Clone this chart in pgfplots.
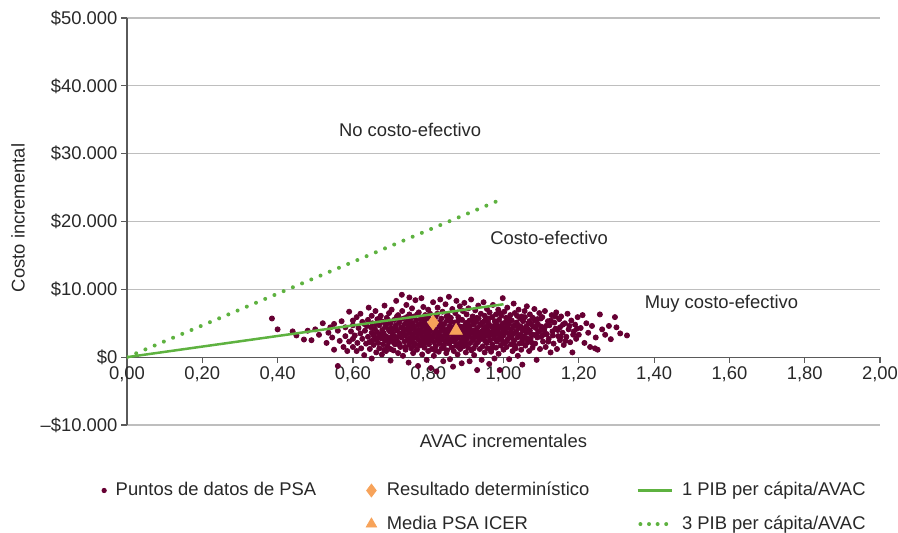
\documentclass[border=0pt]{standalone}
\usepackage{fontspec}
\setmainfont{Liberation Sans}
\usepackage{pgfplots}
\pgfplotsset{compat=1.18}

\definecolor{psa}{RGB}{102,0,51}
\definecolor{pibgreen}{RGB}{94,178,64}
\definecolor{orng}{RGB}{247,163,90}
\definecolor{gridgray}{RGB}{190,190,190}
\definecolor{axisgray}{RGB}{90,90,90}
\definecolor{txt}{RGB}{40,40,40}
\newcommand\chartfont{\fontsize{9.2}{11}\selectfont}

\begin{document}
\begin{tikzpicture}
\path[use as bounding box] (-63.5pt,-54pt) rectangle (385.5pt,212.5pt);
\begin{axis}[
    at={(0,0)}, anchor=south west,
    scale only axis,
    width=376.5pt, height=203.5pt,
    xmin=0, xmax=2, ymin=-10000, ymax=50000,
    clip mode=individual,
    axis x line=middle, axis y line=left,
    axis line style={-, draw=axisgray, line width=0.65pt},
    hide obscured x ticks=false,
    scaled y ticks=false,
    xtick align=center, ytick align=outside,
    major tick length=2.8pt,
    tick style={axisgray, line width=0.6pt},
    x tick style={axisgray, line width=0.6pt, yshift=-1.4pt},
    xtick={0,0.2,...,2.0},
    xticklabels={{0,00},{0,20},{0,40},{0,60},{0,80},{1,00},{1,20},{1,40},{1,60},{1,80},{2,00}},
    ytick={-10000,0,10000,20000,30000,40000,50000},
    yticklabels={--\$10.000,\$0,\$10.000,\$20.000,\$30.000,\$40.000,\$50.000},
    tick label style={font=\chartfont, text=txt},
    yticklabel style={xshift=1.5pt},
    ymajorgrids,
    grid style={gridgray, line width=0.65pt},
    xlabel={AVAC incrementales},
    ylabel={Costo incremental},
    label style={font=\chartfont, text=txt},
    xlabel style={at={(axis description cs:0.5,0)}, anchor=north, yshift=-1pt},
    ylabel style={at={(axis description cs:-0.1448,0.5086)}, anchor=center},
    legend columns=3,
    legend cell align=left,
    legend style={draw=none, fill=none, font=\chartfont, text=txt,
        at={(axis description cs:-0.07,-0.12)}, anchor=north west,
        row sep=4.5pt,
        /tikz/column 2/.style={column sep=23pt},
        /tikz/column 4/.style={column sep=21.5pt}},
]
% PSA scatter points
\addplot[only marks, mark=*, mark size=1.28pt, color=psa, forget plot] coordinates {
(0.385,5700) (0.40,4100) (0.44,3800) (0.45,3200) (0.47,2600)
(0.48,3900) (0.49,2500) (0.50,4100) (0.51,3300) (0.52,5000) (0.53,2100) (0.535,3600) (0.54,4400) (0.545,2900) (0.55,1100) (0.55,4900)
(0.56,-1300) (0.56,3900) (0.565,2400) (0.57,5300) (0.575,1500) (0.58,4400) (0.58,3100) (0.585,900) (0.59,2300) (0.59,6700) (0.595,3800) (0.60,1500) (0.60,4700) (0.60,2700) (0.60,5400)
(0.605,3200) (0.61,900) (0.61,5900) (0.612,2100) (0.615,4300) (0.62,3500) (0.62,6400) (0.622,1300) (0.625,2700) (0.63,4900) (0.63,300) (0.632,3900) (0.635,2000) (0.64,5500) (0.64,3000) (0.642,7300) (0.645,1200) (0.648,4400) (0.65,2400) (0.65,3600) (0.65,-200) (0.65,6100)
(0.652,5000) (0.655,1800) (0.656,3100) (0.658,4200) (0.66,2600) (0.66,6800) (0.662,700) (0.664,3700) (0.665,5600) (0.667,2100) (0.67,4700) (0.67,1300) (0.672,3300) (0.674,6100) (0.675,2800) (0.677,400) (0.678,4000) (0.68,5200) (0.68,1900) (0.682,3500) (0.684,7600) (0.685,2500) (0.686,4500) (0.688,900) (0.69,3000) (0.69,5800) (0.692,1600) (0.694,4100) (0.695,2200) (0.696,6500) (0.698,3800) (0.70,-500) (0.70,2900) (0.70,5000) (0.70,1200)
(0.702,4300) (0.703,7000) (0.705,2400) (0.706,3400) (0.708,1000) (0.71,5500) (0.71,3100) (0.712,1900) (0.714,4700) (0.715,8300) (0.716,2700) (0.718,3900) (0.72,600) (0.72,6200) (0.722,2100) (0.723,5100) (0.725,3500) (0.726,1500) (0.728,4400) (0.73,9200) (0.73,2900) (0.731,6800) (0.733,200) (0.734,3700) (0.735,5700) (0.737,2300) (0.738,4900) (0.74,1100) (0.74,3200) (0.742,7700) (0.744,4100) (0.745,2600) (0.746,5300) (0.748,-800) (0.748,3600) (0.75,8800) (0.75,1800) (0.75,4600) (0.75,6300) (0.752,2900)
(0.753,3900) (0.755,1300) (0.756,5000) (0.757,7200) (0.758,2400) (0.76,3300) (0.76,600) (0.762,4300) (0.763,6000) (0.765,2000) (0.766,8400) (0.767,3700) (0.768,5400) (0.77,1100) (0.77,2800) (0.772,4700) (0.773,-1300) (0.774,3400) (0.775,6600) (0.777,1700) (0.778,4000) (0.78,5600) (0.78,2300) (0.782,8700) (0.783,3100) (0.784,400) (0.785,4500) (0.787,7400) (0.788,2600) (0.79,3800) (0.79,5200) (0.79,1400) (0.792,6200) (0.793,2100) (0.795,4200) (0.796,-400) (0.797,3300) (0.798,5900) (0.80,900) (0.80,2800) (0.80,4800) (0.80,7000) (0.80,3600)
(0.802,1900) (0.803,4400) (0.805,6400) (0.806,2400) (0.807,-1600) (0.808,3900) (0.81,5300) (0.81,1200) (0.812,3000) (0.813,8100) (0.814,4700) (0.815,200) (0.816,2200) (0.818,3500) (0.82,6000) (0.82,4100) (0.82,1600) (0.822,-2100) (0.823,2800) (0.825,7300) (0.826,5000) (0.827,3300) (0.828,800) (0.83,4500) (0.83,2000) (0.832,8500) (0.833,3800) (0.835,5700) (0.836,1300) (0.837,2600) (0.838,6700) (0.84,4200) (0.84,3100) (0.84,-600) (0.842,1800) (0.843,4900) (0.845,2300) (0.846,7800) (0.847,3600) (0.848,600) (0.85,5400) (0.85,2900) (0.85,4000) (0.85,1000)
(0.852,6200) (0.853,3300) (0.855,8900) (0.856,2000) (0.857,4600) (0.858,-300) (0.86,3800) (0.86,5800) (0.862,1400) (0.863,2700) (0.864,7100) (0.865,4300) (0.866,-1400) (0.867,3100) (0.868,900) (0.87,5100) (0.87,2300) (0.872,6500) (0.873,3600) (0.874,1700) (0.875,8300) (0.876,4800) (0.877,2800) (0.878,400) (0.88,4000) (0.88,5900) (0.882,2000) (0.883,3300) (0.884,7500) (0.885,1200) (0.886,4500) (0.888,2600) (0.889,-900) (0.89,5500) (0.89,3700) (0.892,6800) (0.893,1600) (0.894,4200) (0.895,3000) (0.896,8000) (0.898,2200) (0.90,5000) (0.90,700) (0.90,3500)
(0.902,6300) (0.903,2700) (0.905,4400) (0.906,1400) (0.907,7200) (0.908,3200) (0.91,5400) (0.91,-600) (0.912,2100) (0.913,4000) (0.914,8500) (0.915,1000) (0.916,3600) (0.918,6000) (0.92,2500) (0.92,4800) (0.922,300) (0.923,3900) (0.925,6900) (0.926,1800) (0.927,5200) (0.928,3000) (0.93,-1900) (0.93,4300) (0.932,2200) (0.933,7600) (0.934,5700) (0.935,3400) (0.937,1200) (0.938,4700) (0.94,2700) (0.94,6400) (0.942,-400) (0.943,3800) (0.944,5100) (0.945,1600) (0.947,8100) (0.948,2900) (0.95,4400) (0.95,6100) (0.95,700)
(0.952,3500) (0.953,5600) (0.955,2100) (0.956,7100) (0.957,4000) (0.958,1300) (0.96,3100) (0.96,5000) (0.962,-1000) (0.963,6600) (0.964,2500) (0.965,4600) (0.967,800) (0.968,3700) (0.97,5900) (0.97,1900) (0.972,7700) (0.973,4200) (0.975,2800) (0.976,-200) (0.977,5300) (0.978,3300) (0.98,6300) (0.98,1400) (0.982,4800) (0.983,2300) (0.985,3900) (0.986,7000) (0.987,500) (0.988,5500) (0.99,3000) (0.99,-1900) (0.992,4400) (0.993,1700) (0.994,6100) (0.995,2600) (0.997,3600) (0.998,8700) (1.00,5000) (1.00,1100) (1.00,3200)
(1.002,6700) (1.004,2100) (1.005,4300) (1.007,5800) (1.008,1500) (1.01,3600) (1.01,7300) (1.012,2700) (1.014,4900) (1.015,-300) (1.017,3100) (1.018,6200) (1.02,1900) (1.02,4100) (1.022,5400) (1.024,900) (1.025,3400) (1.027,7900) (1.028,2400) (1.03,4600) (1.03,6500) (1.032,1300) (1.034,3800) (1.035,5100) (1.037,2900) (1.038,200) (1.04,4300) (1.04,7000) (1.042,2000) (1.044,5700) (1.045,3300) (1.047,1100) (1.048,6000) (1.05,-1100) (1.05,4000) (1.05,2500)
(1.052,5300) (1.054,3000) (1.056,6800) (1.058,1700) (1.06,4500) (1.06,3600) (1.062,7500) (1.064,2200) (1.066,5000) (1.068,900) (1.07,3900) (1.07,6300) (1.072,2700) (1.075,4800) (1.077,1400) (1.078,5800) (1.08,3300) (1.082,7100) (1.084,2000) (1.086,4300) (1.088,-400) (1.09,5600) (1.09,2900) (1.092,3700) (1.095,6500) (1.097,1200) (1.10,4500) (1.10,3000)
(1.103,5900) (1.105,2300) (1.108,4000) (1.11,6800) (1.112,1500) (1.115,3400) (1.118,5300) (1.12,2700) (1.122,4700) (1.125,700) (1.128,6200) (1.13,3800) (1.133,2000) (1.135,5100) (1.138,4200) (1.14,6600) (1.142,1200) (1.145,3100) (1.148,5600) (1.15,2500) (1.15,4400)
(1.153,6000) (1.157,3600) (1.16,1800) (1.163,5000) (1.167,3000) (1.17,6400) (1.173,4100) (1.177,2200) (1.18,5400) (1.183,700) (1.187,3800) (1.19,4800) (1.193,2700) (1.197,5900) (1.20,3300)
(1.205,4300) (1.21,6200) (1.215,2100) (1.22,5000) (1.225,3600) (1.23,1500) (1.235,4600) (1.243,1300) (1.245,2900) (1.25,1100)
(1.256,6300) (1.262,4100) (1.27,3300) (1.28,4600) (1.285,2650) (1.296,5900) (1.30,4400) (1.31,3500) (1.328,3200)
(0.625,5200) (0.637,4600) (0.644,2200) (0.653,3400) (0.661,4900) (0.668,2900) (0.673,5400) (0.679,3100) (0.683,1100) (0.689,4800) (0.693,2700) (0.697,5300) (0.704,3700) (0.709,2100) (0.713,4200) (0.717,6000) (0.721,3000) (0.724,1800) (0.727,5600) (0.732,4300) (0.736,3300) (0.739,1500) (0.743,5900) (0.747,4400) (0.751,2200) (0.754,5700) (0.759,4800) (0.761,2900) (0.764,1700) (0.769,3900) (0.771,6300) (0.776,2500) (0.779,4900) (0.781,3700) (0.786,1900) (0.789,5500) (0.791,3000) (0.794,4600) (0.799,2400)
(0.801,5700) (0.804,3300) (0.809,2700) (0.811,4200) (0.817,5600) (0.819,1000) (0.821,3700) (0.824,6400) (0.829,2300) (0.831,5200) (0.834,3000) (0.839,4700) (0.841,1400) (0.844,3900) (0.849,6000) (0.851,2600) (0.854,4200) (0.859,3500) (0.861,5200) (0.866,2400) (0.869,4400) (0.871,3000) (0.879,5300) (0.881,1500) (0.887,3800) (0.891,2400) (0.897,4600) (0.899,3900)
(0.901,1900) (0.904,5100) (0.909,3700) (0.911,4600) (0.917,2800) (0.919,5300) (0.921,1300) (0.924,3300) (0.929,5800) (0.931,3700) (0.936,2600) (0.939,4900) (0.941,3300) (0.946,4000) (0.949,5300) (0.951,2400) (0.954,4500) (0.959,3800) (0.961,5700) (0.966,3300) (0.969,1300) (0.971,4500) (0.974,3600) (0.979,5000) (0.981,2500) (0.984,4300) (0.989,3400) (0.991,6500) (0.996,4800) (0.999,2100)
(1.003,3900) (1.006,5100) (1.009,2400) (1.011,4400) (1.016,5600) (1.019,3600) (1.021,2900) (1.026,4600) (1.029,1700) (1.031,3600) (1.036,6100) (1.039,4700) (1.041,3100) (1.046,4500) (1.049,2100) (1.053,4000) (1.057,5900) (1.061,2800) (1.065,4100) (1.069,5300) (1.073,3400) (1.076,2100) (1.079,4500) (1.083,5400) (1.087,3200) (1.091,4900) (1.096,3800) (1.099,5700)
(1.106,3300) (1.113,4600) (1.119,2300) (1.126,5400) (1.131,3200) (1.137,6000) (1.144,4000) (1.152,3000) (1.158,4800) (1.165,2400) (1.175,4600) (1.185,3300) (1.195,4200)
};
% threshold lines
\addplot[pibgreen, line width=1.25pt, forget plot] coordinates {(0,0) (1,7800)};
\addplot[pibgreen, line width=2pt, line cap=round, dash pattern=on 0pt off 5pt, forget plot] coordinates {(0,0) (1,23400)};
% deterministic result and PSA mean
\addplot[only marks, mark=diamond*, mark size=3.6pt, color=orng, forget plot] coordinates {(0.813,5100)};
\addplot[only marks, mark=triangle*, mark size=3.6pt, color=orng, forget plot] coordinates {(0.874,3900)};

% legend
\addlegendimage{legend image code/.code={\fill[psa] (0.5cm-2.5pt,0cm) circle (1.1pt); \path (0.5cm+1.1pt,0cm);}}
\addlegendentry{Puntos de datos de PSA}
\addlegendimage{legend image code/.code={\draw[orng, mark=diamond*, mark size=3.2pt] plot coordinates {(0.5cm,0cm)}; \path (0.5cm+5.5pt,0cm);}}
\addlegendentry{Resultado determinístico}
\addlegendimage{legend image code/.code={\draw[pibgreen, line width=1.25pt] (0cm,0cm) -- (0.6cm,0cm); \path (0.6cm+3pt,0cm);}}
\addlegendentry{1 PIB per cápita/AVAC}
\addlegendimage{empty legend}
\addlegendentry{}
\addlegendimage{legend image code/.code={\draw[orng, mark=triangle*, mark size=3pt] plot coordinates {(0.5cm,0cm)};}}
\addlegendentry{Media PSA ICER}
\addlegendimage{legend image code/.code={\draw[pibgreen, line width=2pt, line cap=round, dash pattern=on 0pt off 4.3pt] (0.05cm,0cm) -- (0.6cm,0cm);}}
\addlegendentry{3 PIB per cápita/AVAC}

\node[font=\chartfont, text=txt] at (axis cs:0.752,33480) {No costo-efectivo};
\node[font=\chartfont, text=txt] at (axis cs:1.121,17550) {Costo-efectivo};
\node[font=\chartfont, text=txt] at (axis cs:1.579,7820) {Muy costo-efectivo};
\end{axis}
\end{tikzpicture}
\end{document}
